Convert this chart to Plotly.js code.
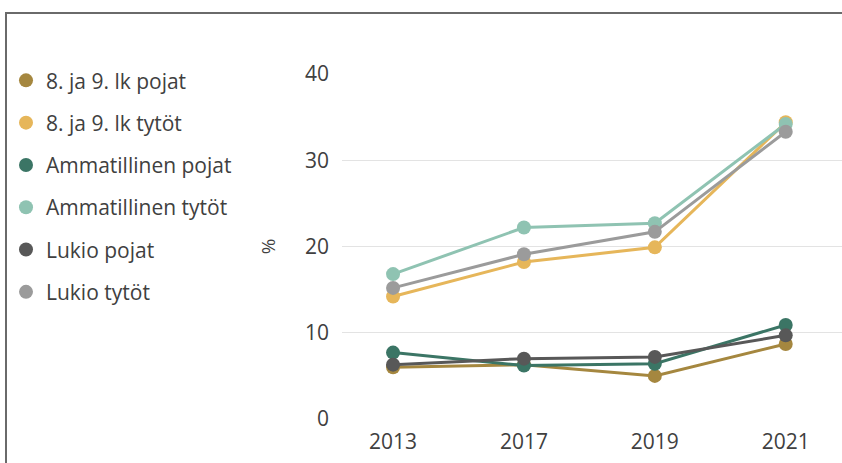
<!DOCTYPE html>
<html>
<head>
<meta charset="utf-8">
<script src="https://cdn.plot.ly/plotly-3.0.1.min.js"></script>
<style>
  body { margin: 0; background: #fff; }
  #wrap { position: relative; width: 842px; height: 463px; overflow: hidden; }
  #frame { position: absolute; left: 5px; top: 12px; width: 900px; height: 500px;
           border-left: 2px solid #6a6a6a; border-top: 2px solid #6a6a6a; pointer-events: none; }
  #chart { position: absolute; left: 0; top: 0; width: 842px; height: 463px; }
</style>
</head>
<body>
<div id="wrap">
  <div id="chart"></div>
  <div id="frame"></div>
</div>
<script>
// years on the x axis
const years = ["2013", "2017", "2019", "2021"];

// the six groups, values in %
const ylaPojat = [6.0, 6.3, 5.0, 8.7];
const ylaTytot = [14.2, 18.2, 19.9, 34.4];
const ammPojat = [7.7, 6.2, 6.4, 10.9];
const ammTytot = [16.8, 22.2, 22.7, 34.2];
const lukioPojat = [6.3, 7.0, 7.2, 9.7];
const lukioTytot = [15.2, 19.1, 21.7, 33.3];

const names = ["8. ja 9. lk pojat", "8. ja 9. lk tytöt", "Ammatillinen pojat",
  "Ammatillinen tytöt", "Lukio pojat", "Lukio tytöt"];
const colors = ["#A5873F", "#E6B65A", "#3B7565", "#8FC3B2", "#585858", "#9B9B9B"];
const series = [ylaPojat, ylaTytot, ammPojat, ammTytot, lukioPojat, lukioTytot];

const traces = [];
for (let i = 0; i < series.length; i++) {
  traces.push({
    x: years,
    y: series[i],
    name: names[i],
    mode: "lines+markers",
    type: "scatter",
    line: {color: colors[i], width: 3},
    marker: {color: colors[i], size: 14},
    showlegend: false,
    hoverinfo: "x+y+name"
  });
}
// legend entries only show a dot
for (let i = 0; i < series.length; i++) {
  traces.push({
    x: [null],
    y: [null],
    name: names[i],
    mode: "markers",
    type: "scatter",
    marker: {color: colors[i], size: 14},
    legendgroup: "g" + i
  });
}

const layout = {
  width: 842,
  height: 463,
  margin: {l: 342, r: 0, t: 74, b: 44},
  paper_bgcolor: "rgba(0,0,0,0)",
  plot_bgcolor: "rgba(0,0,0,0)",
  font: {family: "Open Sans, sans-serif", color: "#404040"},
  showlegend: true,
  legend: {
    x: -0.672, xanchor: "left",
    y: 1.04, yanchor: "top",
    font: {size: 21, color: "#404040"},
    tracegroupgap: 12,
    maxheight: 1,
    bgcolor: "rgba(0,0,0,0)"
  },
  xaxis: {
    type: "category",
    range: [-0.39, 3.43],
    showgrid: false,
    showline: false,
    zeroline: false,
    ticks: "",
    ticklabelstandoff: 8,
    tickfont: {size: 21, color: "#404040"}
  },
  yaxis: {
    range: [0, 40],
    dtick: 10,
    showgrid: true,
    gridcolor: "#E3E3E3",
    gridwidth: 1,
    zeroline: false,
    showline: false,
    ticks: "",
    ticklabelstandoff: 12,
    tickfont: {size: 21, color: "#404040"},
    title: {text: "%", font: {size: 19, color: "#404040"}, standoff: 24}
  }
};

Plotly.newPlot("chart", traces, layout, {displayModeBar: false, staticPlot: true});
</script>
</body>
</html>
